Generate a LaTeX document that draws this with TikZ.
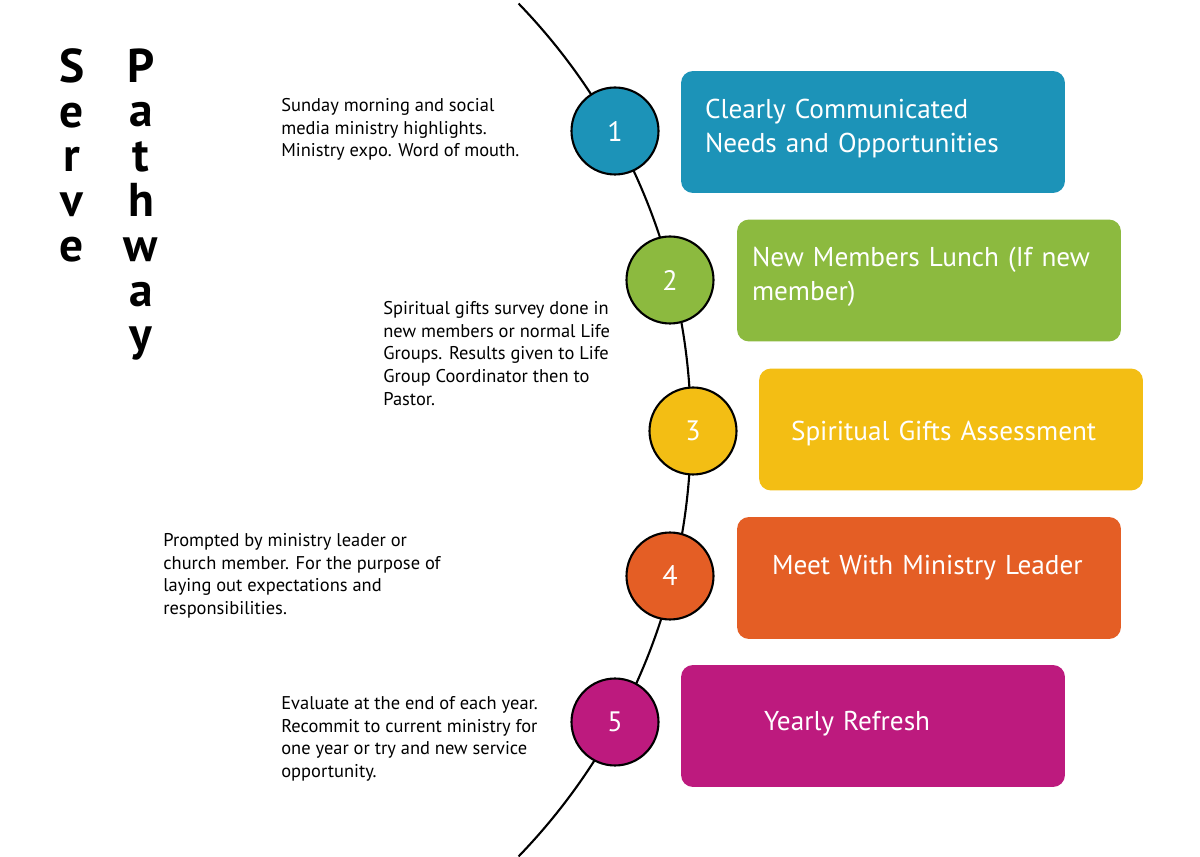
\documentclass[tikz,border=0pt]{standalone}
\usepackage{fontspec}
\setmainfont{PT Sans}
\usepackage{tikz}
\usetikzlibrary{positioning}

\definecolor{stepblue}{HTML}{1C93B8}
\definecolor{stepgreen}{HTML}{8CBA3F}
\definecolor{stepyellow}{HTML}{F3BE14}
\definecolor{steporange}{HTML}{E45E25}
\definecolor{stepmagenta}{HTML}{BD1A7E}

\begin{document}
\begin{tikzpicture}
  [
    x=0.02cm, y=-0.02cm,
    nr/.style={draw, circle, line width=1.2pt, minimum size=1.74cm, inner sep=0pt, text=white, font=\fontsize{16}{19}\selectfont},
    stepbox/.style={rounded corners=0.24cm, minimum width=7.68cm, minimum height=2.44cm, inner ysep=0pt, align=left, text=white, font=\fontsize{15.5}{19.3}\selectfont},
    note/.style={anchor=north west, inner sep=0pt, align=left, font=\fontsize{10.5}{12.9}\selectfont},
    title/.style={anchor=north, inner sep=0pt, align=center, font=\fontsize{27}{25.5}\selectfont\bfseries}
  ]

  \useasboundingbox (0,0) rectangle (1200,857);
  \fill[white] (0,0) rectangle (1200,857);

  % Bogen
  \draw[line width=1.2pt] (77,430) ++(44:12.28cm) arc[start angle=44, end angle=-44, radius=12.28cm];

  \node[title] (serve) at (72,48) {S\\e\\r\\v\\e};
  \node[title] (pathway) at (141,48) {P\\a\\t\\h\\w\\a\\y};

  \foreach \i/\x/\y/\c in {1/615/131/stepblue, 2/670/280/stepgreen, 3/693/431/stepyellow, 4/670/576/steporange, 5/615/722/stepmagenta}
    \node[nr, fill=\c] (c\i) at (\x,\y) {\i};

  \node[stepbox, fill=stepblue, inner xsep=0.48cm, text width=6.72cm, text height=0pt, text depth=15.3pt] (b1) at (873,132) {Clearly Communicated\\Needs and Opportunities};
  \node[stepbox, fill=stepgreen, inner xsep=0.3cm, text width=7.08cm, text height=0pt, text depth=15.9pt] (b2) at (929,280.5) {New Members Lunch (If new\\member)};
  \node[stepbox, fill=stepyellow, inner xsep=0.64cm, text width=6.4cm, text height=12.9pt, text depth=0pt] (b3) at (951,429.5) {Spiritual Gifts Assessment};
  \node[stepbox, fill=steporange, inner xsep=0.7cm, text width=6.28cm, text height=0pt, text depth=3.6pt] (b4) at (929,578) {Meet With Ministry Leader};
  \node[stepbox, fill=stepmagenta, inner xsep=1.66cm, text width=4.36cm, text height=5.6pt, text depth=0pt] (b5) at (873,726) {Yearly Refresh};

  \node[note] (n1) at (281,98) {Sunday morning and social\\media ministry highlights.\\Ministry expo. Word of mouth.};
  \node[note] (n3) at (383,301) {Spiritual gifts survey done in\\new members or normal Life\\Groups. Results given to Life\\Group Coordinator then to\\Pastor.};
  \node[note] (n4) at (163,533) {Prompted by ministry leader or\\church member. For the purpose of\\laying out expectations and\\responsibilities.};
  \node[note] (n5) at (281,696) {Evaluate at the end of each year.\\Recommit to current ministry for\\one year or try and new service\\opportunity.};
\end{tikzpicture}
\end{document}
